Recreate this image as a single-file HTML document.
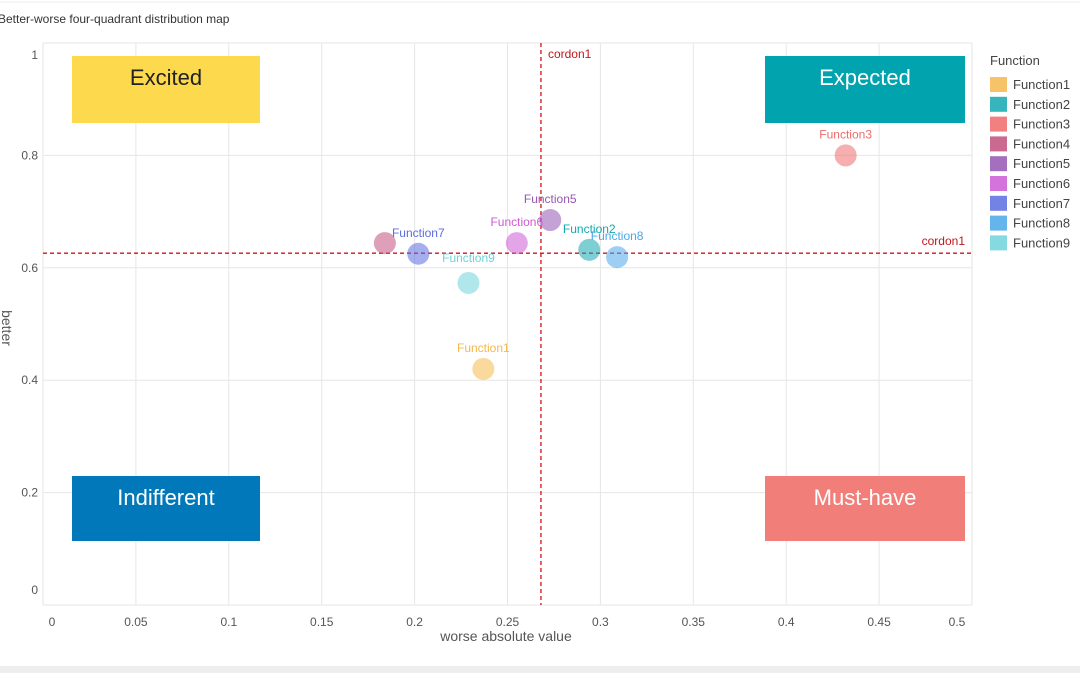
<!DOCTYPE html>
<html><head><meta charset="utf-8"><style>
body{margin:0;background:#fff;font-family:"Liberation Sans",sans-serif;}
svg text{font-family:"Liberation Sans",sans-serif;}
</style></head><body>
<svg id="c" width="1080" height="673" xmlns="http://www.w3.org/2000/svg">
<rect x="0" y="0" width="1080" height="673" fill="#fff"/>
<rect x="0" y="666" width="1080" height="7" fill="#eeeeee"/>
<line x1="0" y1="2" x2="1080" y2="2" stroke="#eee"/>
<text x="-2" y="23" font-size="12" fill="#333">Better-worse four-quadrant distribution map</text>
<g id="grid"></g>
<g id="boxes"></g>
<g id="cordons"></g>
<g id="pts"></g>
<g id="legend"></g>
<text x="506" y="641" font-size="14" fill="#555" text-anchor="middle">worse absolute value</text>
<text transform="translate(2,328) rotate(90)" font-size="14" fill="#555" text-anchor="middle">better</text>
</svg>
<script>
const names=["Function1","Function2","Function3","Function4","Function5","Function6","Function7","Function8","Function9"];
const worse=[0.237,0.294,0.432,0.184,0.273,0.255,0.202,0.309,0.229];
const better=[0.42,0.632,0.8,0.644,0.685,0.644,0.625,0.619,0.573];
const colors=["#f5b94d","#13a8b0","#ee6b6b","#c2507e","#9356b3","#cc5bd6","#5b6de0","#4aa8ea","#6fd3da"];
const xTicks=[0,0.05,0.1,0.15,0.2,0.25,0.3,0.35,0.4,0.45,0.5];
const yTicks=[0,0.2,0.4,0.6,0.8,1];
const cordonX=0.268, cordonY=0.626;
const NS="http://www.w3.org/2000/svg";
const X=v=>43+v*1858, Y=v=>605-v*562;
function mk(t,a,p){const e=document.createElementNS(NS,t);for(const k in a)e.setAttribute(k,a[k]);p.appendChild(e);return e;}
const g=document.getElementById('grid');
xTicks.forEach((t,i)=>{
 const l=mk('line',{x1:X(t),x2:X(t),y1:43,y2:605,stroke:'#e6e6e6'},g);
 
 
 let tx=X(t); if(i==0)tx=52; if(i==xTicks.length-1)tx=957;
 const e=mk('text',{x:tx,y:626,'font-size':12,fill:'#555','text-anchor':'middle'},g);e.textContent=String(t);
 
 
});
yTicks.forEach((t,i)=>{
 const l=mk('line',{x1:43,x2:972,y1:Y(t),y2:Y(t),stroke:'#e6e6e6'},g);
 
 
 let ty=Y(t)+4; if(t==0)ty=594; if(t==1)ty=59;
 const e=mk('text',{x:38,y:ty,'font-size':12,fill:'#555','text-anchor':'end'},g);e.textContent=String(t);
 
 
});
const b=document.getElementById('boxes');
[["Excited",72,56,188,67,"#fdd94d","#222","excited-box"],["Expected",765,56,200,67,"#01a3ae","#fff","expected-box"],["Indifferent",72,476,188,65,"#0178ba","#fff","indifferent-box"],["Must-have",765,476,200,65,"#f27e7a","#fff","must-have-box"]].forEach(q=>{
 const r=mk('rect',{x:q[1],y:q[2],width:q[3],height:q[4],fill:q[5]},b);
 
 
 const t=mk('text',{x:q[1]+q[3]/2-(q[0]=="Excited"||q[0]=="Indifferent"?0:0),y:q[2]+29,'font-size':22,fill:q[6],'text-anchor':'middle'},b);t.textContent=q[0];
 
 
});
const c=document.getElementById('cordons');
let l1=mk('line',{x1:X(cordonX),x2:X(cordonX),y1:43,y2:605,stroke:'#d0131a','stroke-width':1.3,'stroke-dasharray':'4,3'},c);


let l2=mk('line',{x1:43,x2:972,y1:Y(cordonY),y2:Y(cordonY),stroke:'#d0131a','stroke-width':1.3,'stroke-dasharray':'4,3'},c);


let t1=mk('text',{x:X(cordonX)+7,y:58,'font-size':12,fill:'#c0171d'},c);t1.textContent='cordon1';


let t2=mk('text',{x:965,y:Y(cordonY)-8,'font-size':12,fill:'#c0171d','text-anchor':'end'},c);t2.textContent='cordon1';


const p=document.getElementById('pts');
names.forEach((n,i)=>{
 const cx=X(worse[i]),cy=Y(better[i]);
 const ci=mk('circle',{cx:cx,cy:cy,r:11,fill:colors[i],'fill-opacity':0.55},p);
 
 
 if(n=="Function4")return;
 let dy=-17; if(n=="Function9")dy=-21;
 let ty=n=="Function9"?cy+dy+1:cy+dy; if(n=="Function9")ty=Y(better[i])-22;
 if(n=="Function9")ty=cy-21;
 const t=mk('text',{x:cx,y:n=="Function9"?cy-20:cy+dy,'font-size':12,fill:colors[i],'text-anchor':'middle'},p);t.textContent=n;
 if(n=="Function9"){t.setAttribute('y',cy-21);}
 
 
});
const lg=document.getElementById('legend');
let lt=mk('text',{x:990,y:65,'font-size':13,fill:'#444'},lg);lt.textContent='Function';


names.forEach((n,i)=>{
 const y=77+i*19.8;
 const r=mk('rect',{x:990,y:y,width:17,height:15,fill:colors[i],'fill-opacity':0.85},lg);
 
 
 const t=mk('text',{x:1013,y:y+12,'font-size':13,fill:'#444'},lg);t.textContent=n;
 
 
});
</script>
</body></html>
